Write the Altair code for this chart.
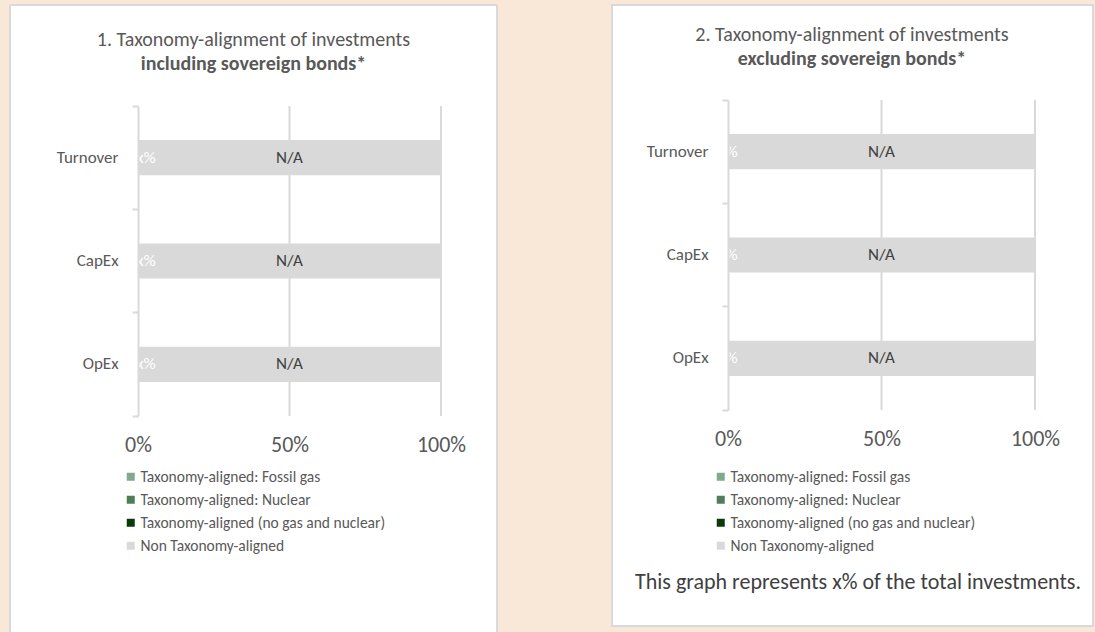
import altair as alt
import pandas as pd

# ---------------- data ----------------
categories = ["Turnover", "CapEx", "OpEx"]
series = [
    "Taxonomy-aligned: Fossil gas",
    "Taxonomy-aligned: Nuclear",
    "Taxonomy-aligned (no gas and nuclear)",
    "Non Taxonomy-aligned",
]
series_colors = ["#7FAA8B", "#4E7D57", "#0A3A0A", "#D9D9D9"]

# Panel 1: including sovereign bonds (shares of 1.0)
p1_fossil = [0.0, 0.0, 0.0]
p1_nuclear = [0.0, 0.0, 0.0]
p1_aligned = [0.0, 0.0, 0.0]
p1_non = [1.0, 1.0, 1.0]
p1_aligned_labels = ["x%", "x%", "x%"]
p1_non_labels = ["N/A", "N/A", "N/A"]

# Panel 2: excluding sovereign bonds
p2_fossil = [0.0, 0.0, 0.0]
p2_nuclear = [0.0, 0.0, 0.0]
p2_aligned = [0.0, 0.0, 0.0]
p2_non = [1.0, 1.0, 1.0]
p2_aligned_labels = ["x%", "x%", "x%"]
p2_non_labels = ["N/A", "N/A", "N/A"]

x_tick_values = [0, 0.5, 1.0]
grid_values = [0.5, 1.0]

p1_title = ["1. Taxonomy-alignment of investments", "including sovereign bonds*"]
p2_title = ["2. Taxonomy-alignment of investments", "excluding sovereign bonds*"]
footnote = "This graph represents x% of the total investments."

# ---------------- style ----------------
FONT = "Calibri, Carlito, Lato, sans-serif"
GRAY_LINE = "#D9D9D9"
TEXT = "#595959"
BG = "#F9E7D7"


def build_tables(fossil, nuclear, aligned, non, al_labels, non_labels):
    rows = []
    for i, c in enumerate(categories):
        vals = [fossil[i], nuclear[i], aligned[i], non[i]]
        for k, s in enumerate(series):
            rows.append({"category": c, "series": s, "order": k, "value": vals[k]})
    bars = pd.DataFrame(rows)
    lab = []
    for i, c in enumerate(categories):
        tax = fossil[i] + nuclear[i] + aligned[i]
        lab.append({"category": c, "pos": tax / 2, "label": al_labels[i], "kind": "aligned"})
        lab.append({"category": c, "pos": tax + non[i] / 2, "label": non_labels[i], "kind": "non"})
    return bars, pd.DataFrame(lab)


def panel(bars, labels, titles, w, h, yrange, box, legend_y, title_x, title_y,
          aligned_dx, xlab_pad, full_box=True, note=None):
    bx1, bx2, by1, by2 = box
    one = alt.Data(values=[{"a": 1}])

    y_scale = alt.Scale(paddingInner=0, paddingOuter=0, range=yrange)
    y_enc = alt.Y(
        "category:N",
        sort=categories,
        title=None,
        scale=y_scale,
        axis=alt.Axis(
            domainColor=GRAY_LINE, domainWidth=2,
            tickColor=GRAY_LINE, tickWidth=2, tickSize=6,
            tickExtra=True, bandPosition=1,
            labelFontSize=17, labelColor=TEXT, labelPadding=14,
            grid=False, zindex=1,
        ),
    )
    x_scale = alt.Scale(domain=[0, 1], nice=False)

    box_fill = alt.Chart(one).mark_rect(
        fill="white", stroke=GRAY_LINE if full_box else "white",
        strokeWidth=2 if full_box else 0
    ).encode(x=alt.value(bx1), x2=alt.value(bx2), y=alt.value(by1), y2=alt.value(by2))
    layers = [box_fill]
    if not full_box:
        for (xa, xb, ya, yb) in [(bx1, bx1, by1, by2), (bx2, bx2, by1, by2), (bx1, bx2, by1, by1)]:
            layers.append(
                alt.Chart(one).mark_rule(color=GRAY_LINE, strokeWidth=2).encode(
                    x=alt.value(xa), x2=alt.value(xb), y=alt.value(ya), y2=alt.value(yb)
                )
            )

    grid = alt.Chart(pd.DataFrame({"g": grid_values})).mark_rule(
        color=GRAY_LINE, strokeWidth=2
    ).encode(
        x=alt.X("g:Q", scale=x_scale),
        y=alt.value(yrange[0]), y2=alt.value(yrange[1]),
    )
    layers.append(grid)

    bar = alt.Chart(bars).mark_bar(height=alt.RelativeBandSize(0.34)).encode(
        x=alt.X(
            "value:Q", stack="zero", scale=x_scale, title=None,
            axis=alt.Axis(
                values=x_tick_values, format=".0%", domain=False, ticks=False,
                grid=False, labelFontSize=22, labelColor=TEXT, labelPadding=xlab_pad,
                labelFlush=False, zindex=1,
            ),
        ),
        y=y_enc,
        color=alt.Color(
            "series:N",
            scale=alt.Scale(domain=series, range=series_colors),
            legend=alt.Legend(
                orient="none", legendX=-15, legendY=legend_y, title=None,
                symbolType="square", symbolSize=64, symbolStrokeWidth=0,
                labelFontSize=15.5, labelColor=TEXT, rowPadding=6, labelOffset=2,
                labelLimit=400,
            ),
        ),
        order=alt.Order("order:Q"),
    )
    layers.append(bar)

    t_al = alt.Chart(labels).transform_filter(alt.datum.kind == "aligned").mark_text(
        color="white", fontSize=17, align="center", baseline="middle", dx=aligned_dx
    ).encode(x=alt.X("pos:Q", scale=x_scale), y=alt.Y("category:N", sort=categories), text="label:N")
    t_non = alt.Chart(labels).transform_filter(alt.datum.kind == "non").mark_text(
        color="#404040", fontSize=17, align="center", baseline="middle"
    ).encode(x=alt.X("pos:Q", scale=x_scale), y=alt.Y("category:N", sort=categories), text="label:N")
    layers += [t_al, t_non]

    t1 = alt.Chart(alt.Data(values=[{"t": titles[0]}])).mark_text(
        fontSize=20, color=TEXT, align="center", baseline="middle"
    ).encode(x=alt.value(title_x), y=alt.value(title_y - 0.5), text="t:N")
    t2 = alt.Chart(alt.Data(values=[{"t": titles[1]}])).mark_text(
        fontSize=20, fontWeight="bold", color=TEXT, align="center", baseline="middle"
    ).encode(x=alt.value(title_x), y=alt.value(title_y + 23.5), text="t:N")
    layers += [t1, t2]

    if note is not None:
        tn = alt.Chart(alt.Data(values=[{"t": note[0]}])).mark_text(
            fontSize=22, color="#404040", align="center", baseline="middle"
        ).encode(x=alt.value(note[1]), y=alt.value(note[2]), text="t:N")
        layers.append(tn)

    return alt.layer(*layers).properties(width=w, height=h)


b1, l1 = build_tables(p1_fossil, p1_nuclear, p1_aligned, p1_non, p1_aligned_labels, p1_non_labels)
b2, l2 = build_tables(p2_fossil, p2_nuclear, p2_aligned, p2_non, p2_aligned_labels, p2_non_labels)

left = panel(b1, l1, p1_title, 303, 310, [0, 310], (-128, 359, -101, 526), 363, 115.5, -66, 8,
             18, full_box=False)
right = panel(b2, l2, p2_title, 307, 310, [-6, 304], (-116, 365, -101, 520), 363, 124, -71, 0,
              12, full_box=True, note=(footnote, 130, 476))

chart = alt.hconcat(left, right, spacing=113).resolve_legend(color="independent").properties(
    background=BG,
    padding={"left": 9, "top": 4, "right": 1, "bottom": 0},
).configure(font=FONT).configure_view(stroke=None)

chart.save("out.html", embed_options={"renderer": "svg", "actions": False})
